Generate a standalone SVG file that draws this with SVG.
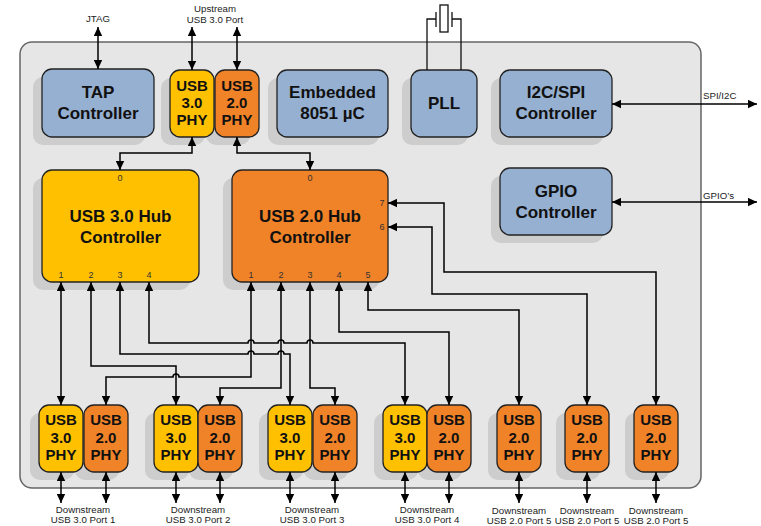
<svg xmlns="http://www.w3.org/2000/svg" width="761" height="526" viewBox="0 0 761 526">
<defs>
<marker id="ah" viewBox="0 0 9 9" refX="9" refY="4.5" markerWidth="9" markerHeight="9" markerUnits="userSpaceOnUse" orient="auto-start-reverse">
<path d="M0,0.3 L9,4.5 L0,8.7 z" fill="#000"/>
</marker>
<style>
.box{stroke:#222;stroke-width:1.3}
.blue{fill:#95b0d1}
.yel{fill:#ffc000}
.org{fill:#f08228}
.sh{fill:#cdcdcd}
.t{font-family:"Liberation Sans",Arial,sans-serif;font-weight:bold;font-size:17px;fill:#111;text-anchor:middle}
.p{font-family:"Liberation Sans",Arial,sans-serif;font-weight:bold;font-size:15px;fill:#111;text-anchor:middle}
.s{font-family:"Liberation Sans",Arial,sans-serif;font-size:9.7px;fill:#222;text-anchor:middle}
.n{font-family:"Liberation Sans",Arial,sans-serif;font-size:9px;fill:#333;text-anchor:middle}
.c{fill:none;stroke:#000;stroke-width:1.5;marker-start:url(#ah);marker-end:url(#ah)}
.w{fill:none;stroke:#111;stroke-width:1.3}
</style>
</defs>
<rect x="0" y="0" width="761" height="526" fill="#fff"/>
<rect id="chip" x="20" y="42" width="681" height="446" rx="12" fill="#e6e6e6" stroke="#666" stroke-width="1.5"/>

<g id="shadows" class="sh">
<rect x="33" y="77" width="112" height="68" rx="10"/>
<rect x="161" y="78" width="44" height="67" rx="10"/>
<rect x="206" y="78" width="44" height="67" rx="10"/>
<rect x="268" y="78" width="111" height="67" rx="10"/>
<rect x="402" y="78" width="66" height="67" rx="10"/>
<rect x="491" y="78" width="112" height="67" rx="10"/>
<rect x="491" y="176" width="112" height="67" rx="10"/>
<rect x="33" y="178" width="157" height="112" rx="10"/>
<rect x="223" y="178" width="156" height="112" rx="10"/>
<rect x="30" y="413" width="44" height="67" rx="10"/>
<rect x="75" y="413" width="44" height="67" rx="10"/>
<rect x="145" y="413" width="44" height="67" rx="10"/>
<rect x="189" y="413" width="44" height="67" rx="10"/>
<rect x="259" y="413" width="44" height="67" rx="10"/>
<rect x="304" y="413" width="44" height="67" rx="10"/>
<rect x="374" y="413" width="44" height="67" rx="10"/>
<rect x="418" y="413" width="44" height="67" rx="10"/>
<rect x="488" y="413" width="44" height="67" rx="10"/>
<rect x="556" y="413" width="44" height="67" rx="10"/>
<rect x="625" y="413" width="44" height="67" rx="10"/>
</g>

<g id="tap"><rect class="box blue" x="42" y="69" width="112" height="68" rx="10"/><text class="t" x="98" y="98">TAP</text><text class="t" x="98" y="119">Controller</text></g>
<g id="up-usb3-phy"><rect class="box yel" x="170" y="70" width="44" height="67" rx="10"/><text class="p" x="192" y="91">USB</text><text class="p" x="192" y="108">3.0</text><text class="p" x="192" y="125">PHY</text></g>
<g id="up-usb2-phy"><rect class="box org" x="215" y="70" width="44" height="67" rx="10"/><text class="p" x="237" y="91">USB</text><text class="p" x="237" y="108">2.0</text><text class="p" x="237" y="125">PHY</text></g>
<g id="embedded"><rect class="box blue" x="277" y="70" width="111" height="67" rx="10"/><text class="t" x="332.5" y="98">Embedded</text><text class="t" x="332.5" y="119">8051 µC</text></g>
<g id="pll"><rect class="box blue" x="411" y="70" width="66" height="67" rx="10"/><text class="t" x="444" y="109">PLL</text></g>
<g id="i2c-spi"><rect class="box blue" x="500" y="70" width="112" height="67" rx="10"/><text class="t" x="556" y="98">I2C/SPI</text><text class="t" x="556" y="119">Controller</text></g>
<g id="gpio"><rect class="box blue" x="500" y="168" width="112" height="67" rx="10"/><text class="t" x="556" y="197">GPIO</text><text class="t" x="556" y="218">Controller</text></g>

<g id="hub3"><rect class="box yel" x="42" y="170" width="157" height="112" rx="10"/><text class="t" x="120.5" y="222">USB 3.0 Hub</text><text class="t" x="120.5" y="243">Controller</text>
<text class="n" x="120" y="181">0</text><text class="n" x="61" y="278">1</text><text class="n" x="91" y="278">2</text><text class="n" x="120" y="278">3</text><text class="n" x="149" y="278">4</text></g>
<g id="hub2"><rect class="box org" x="232" y="170" width="156" height="112" rx="10"/><text class="t" x="310" y="222">USB 2.0 Hub</text><text class="t" x="310" y="243">Controller</text>
<text class="n" x="310" y="181">0</text><text class="n" x="251" y="278">1</text><text class="n" x="281" y="278">2</text><text class="n" x="310" y="278">3</text><text class="n" x="339" y="278">4</text><text class="n" x="368" y="278">5</text><text class="n" x="382" y="206">7</text><text class="n" x="382" y="230">6</text></g>

<g id="ds1-usb3"><rect class="box yel" x="39" y="405" width="44" height="67" rx="10"/><text class="p" x="61" y="425">USB</text><text class="p" x="61" y="443">3.0</text><text class="p" x="61" y="460">PHY</text></g>
<g id="ds1-usb2"><rect class="box org" x="84" y="405" width="44" height="67" rx="10"/><text class="p" x="106" y="425">USB</text><text class="p" x="106" y="443">2.0</text><text class="p" x="106" y="460">PHY</text></g>
<g id="ds2-usb3"><rect class="box yel" x="154" y="405" width="44" height="67" rx="10"/><text class="p" x="176" y="425">USB</text><text class="p" x="176" y="443">3.0</text><text class="p" x="176" y="460">PHY</text></g>
<g id="ds2-usb2"><rect class="box org" x="198" y="405" width="44" height="67" rx="10"/><text class="p" x="220" y="425">USB</text><text class="p" x="220" y="443">2.0</text><text class="p" x="220" y="460">PHY</text></g>
<g id="ds3-usb3"><rect class="box yel" x="268" y="405" width="44" height="67" rx="10"/><text class="p" x="290" y="425">USB</text><text class="p" x="290" y="443">3.0</text><text class="p" x="290" y="460">PHY</text></g>
<g id="ds3-usb2"><rect class="box org" x="313" y="405" width="44" height="67" rx="10"/><text class="p" x="335" y="425">USB</text><text class="p" x="335" y="443">2.0</text><text class="p" x="335" y="460">PHY</text></g>
<g id="ds4-usb3"><rect class="box yel" x="383" y="405" width="44" height="67" rx="10"/><text class="p" x="405" y="425">USB</text><text class="p" x="405" y="443">3.0</text><text class="p" x="405" y="460">PHY</text></g>
<g id="ds4-usb2"><rect class="box org" x="427" y="405" width="44" height="67" rx="10"/><text class="p" x="449" y="425">USB</text><text class="p" x="449" y="443">2.0</text><text class="p" x="449" y="460">PHY</text></g>
<g id="ds5a-usb2"><rect class="box org" x="497" y="405" width="44" height="67" rx="10"/><text class="p" x="519" y="425">USB</text><text class="p" x="519" y="443">2.0</text><text class="p" x="519" y="460">PHY</text></g>
<g id="ds5b-usb2"><rect class="box org" x="565" y="405" width="44" height="67" rx="10"/><text class="p" x="587" y="425">USB</text><text class="p" x="587" y="443">2.0</text><text class="p" x="587" y="460">PHY</text></g>
<g id="ds5c-usb2"><rect class="box org" x="634" y="405" width="44" height="67" rx="10"/><text class="p" x="656" y="425">USB</text><text class="p" x="656" y="443">2.0</text><text class="p" x="656" y="460">PHY</text></g>

<g id="crystal">
<path class="w" d="M427,70 V19 H436 M461,70 V19 H452 M436,12 V27 M452,12 V27"/>
<rect x="440" y="5" width="8" height="27" fill="#fff" stroke="#111" stroke-width="1.3"/>
</g>

<g id="connectors">
<path class="c" d="M98,27 V69"/>
<path class="c" d="M192,27 V70"/>
<path class="c" d="M237,27 V70"/>
<path class="c" d="M192,137 V153 H120 V170"/>
<path class="c" d="M237,137 V153 H310 V170"/>
<path class="c" d="M612,104 H757"/>
<path class="c" d="M612,202 H757"/>
<path class="c" d="M61,282 V405"/>
<path class="c" d="M91,282 V366 H176 V405"/>
<path class="c" d="M120,282 V354 H248 A3,3 0 0 1 254,354 H278 A3,3 0 0 1 284,354 H290 V405"/>
<path class="c" d="M149,282 V343 H248 A3,3 0 0 1 254,343 H278 A3,3 0 0 1 284,343 H307 A3,3 0 0 1 313,343 H405 V405"/>
<path class="c" d="M251,282 V377 H179 A3,3 0 0 0 173,377 H106 V405"/>
<path class="c" d="M281,282 V388 H220 V405"/>
<path class="c" d="M310,282 V388 H335 V405"/>
<path class="c" d="M339,282 V332 H449 V405"/>
<path class="c" d="M368,282 V310 H519 V405"/>
<path class="c" d="M388,227 H432 V294 H587 V405"/>
<path class="c" d="M388,203 H444 V272 H656 V405"/>
<path class="c" d="M61,472 V503"/>
<path class="c" d="M106,472 V503"/>
<path class="c" d="M176,472 V503"/>
<path class="c" d="M220,472 V503"/>
<path class="c" d="M290,472 V503"/>
<path class="c" d="M335,472 V503"/>
<path class="c" d="M405,472 V503"/>
<path class="c" d="M449,472 V503"/>
<path class="c" d="M519,472 V503"/>
<path class="c" d="M587,472 V503"/>
<path class="c" d="M656,472 V503"/>
</g>

<g id="labels">
<text class="s" x="98" y="22">JTAG</text>
<text class="s" x="215" y="12">Upstream</text>
<text class="s" x="215" y="23">USB 3.0 Port</text>
<text class="s" x="703" y="99" text-anchor="start" style="text-anchor:start">SPI/I2C</text>
<text class="s" x="703" y="199" style="text-anchor:start">GPIO’s</text>
<text class="s" x="83" y="513">Downstream</text><text class="s" x="83" y="523">USB 3.0 Port 1</text>
<text class="s" x="198" y="513">Downstream</text><text class="s" x="198" y="523">USB 3.0 Port 2</text>
<text class="s" x="312" y="513">Downstream</text><text class="s" x="312" y="523">USB 3.0 Port 3</text>
<text class="s" x="427" y="513">Downstream</text><text class="s" x="427" y="523">USB 3.0 Port 4</text>
<text class="s" x="519" y="514">Downstream</text><text class="s" x="519" y="524">USB 2.0 Port 5</text>
<text class="s" x="587" y="514">Downstream</text><text class="s" x="587" y="524">USB 2.0 Port 5</text>
<text class="s" x="656" y="514">Downstream</text><text class="s" x="656" y="524">USB 2.0 Port 5</text>
</g>
</svg>
